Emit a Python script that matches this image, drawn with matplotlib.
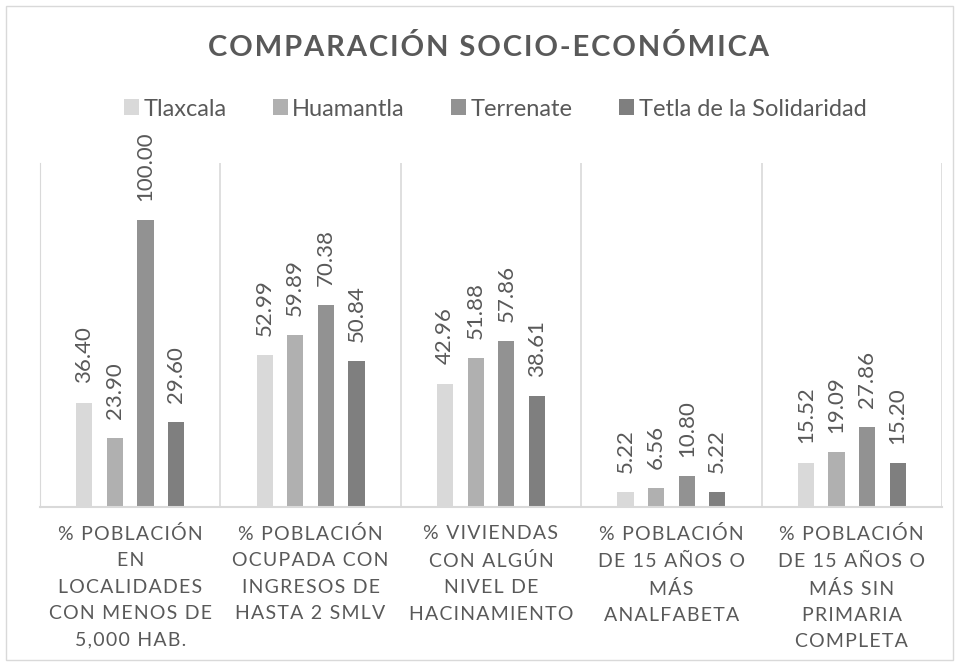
import numpy as np
import matplotlib
matplotlib.use("Agg")
import matplotlib.pyplot as plt
from matplotlib.patches import Patch, Rectangle
from matplotlib.transforms import blended_transform_factory

plt.rcParams['font.family'] = ['Lato', 'DejaVu Sans']

# data
categories = [
    "% POBLACIÓN\nEN\nLOCALIDADES\nCON MENOS DE\n5,000 HAB.",
    "% POBLACIÓN\nOCUPADA CON\nINGRESOS DE\nHASTA 2 SMLV",
    "% VIVIENDAS\nCON ALGÚN\nNIVEL DE\nHACINAMIENTO",
    "% POBLACIÓN\nDE 15 AÑOS O\nMÁS\nANALFABETA",
    "% POBLACIÓN\nDE 15 AÑOS O\nMÁS SIN\nPRIMARIA\nCOMPLETA",
]
series_names = ["Tlaxcala", "Huamantla", "Terrenate", "Tetla de la Solidaridad"]
tlaxcala = [36.40, 52.99, 42.96, 5.22, 15.52]
huamantla = [23.90, 59.89, 51.88, 6.56, 19.09]
terrenate = [100.00, 70.38, 57.86, 10.80, 27.86]
tetla = [29.60, 50.84, 38.61, 5.22, 15.20]
colors = ['#D9D9D9', '#B0B0B0', '#929292', '#7F7F7F']

TXT = '#595959'
GRID = '#D9D9D9'


def track(s, sep='\u200a'):
    # crude letter spacing
    return '\n'.join(sep.join(line) for line in s.split('\n'))


fig = plt.figure(figsize=(9.59, 6.66), dpi=100)
fig.patches.append(Rectangle((6 / 959, 6 / 666), 947 / 959, 654 / 666,
                             transform=fig.transFigure, fill=False,
                             edgecolor=GRID, linewidth=1))

ax = fig.add_axes([40 / 959, 1 - 507 / 666, 902 / 959, (507 - 163) / 666])

x = np.arange(len(categories)) + 0.5
offsets = [-0.254, -0.085, 0.085, 0.254]
barw = 0.09
all_vals = [tlaxcala, huamantla, terrenate, tetla]

for vals, off, col in zip(all_vals, offsets, colors):
    bars = ax.bar(x + off, vals, width=barw, color=col)
    for b, v in zip(bars, vals):
        ax.annotate(f"{v:.2f}", (b.get_x() + b.get_width() / 2, v),
                    xytext=(0, 14), textcoords='offset points',
                    rotation=90, ha='center', va='bottom',
                    fontsize=16, color=TXT)

ax.set_xlim(0, 5)
ax.set_ylim(0, 120)
for sp in ['top', 'right']:
    ax.spines[sp].set_visible(False)
ax.spines['left'].set_color(GRID)
ax.spines['bottom'].set_color(GRID)
ax.spines['bottom'].set_linewidth(1.5)
for b in range(1, 6):
    ax.axvline(b, color=GRID, linewidth=1.2)
ax.set_xticks([])
ax.set_yticks([])

trans = blended_transform_factory(ax.transData, fig.transFigure)
for xi, lab in zip(x, categories):
    ax.text(xi, 1 - 525 / 666, track(lab), transform=trans, ha='center',
            va='top', fontsize=14, color=TXT, linespacing=1.67,
            multialignment='center')

fig.text(488 / 959, 1 - 48 / 666, track("COMPARACIÓN SOCIO-ECONÓMICA"),
         ha='center', va='center', fontsize=21, fontweight='bold', color=TXT)

handles = [Patch(facecolor=c, edgecolor='none') for c in colors]
fig.legend(handles, series_names, loc='center', bbox_to_anchor=(495 / 959, 1 - 109 / 666),
           ncol=4, frameon=False, fontsize=17, labelcolor=TXT,
           handlelength=0.64, handleheight=0.64, handletextpad=0.2,
           columnspacing=1.95, borderaxespad=0)

fig.savefig("out.png", dpi=100)
